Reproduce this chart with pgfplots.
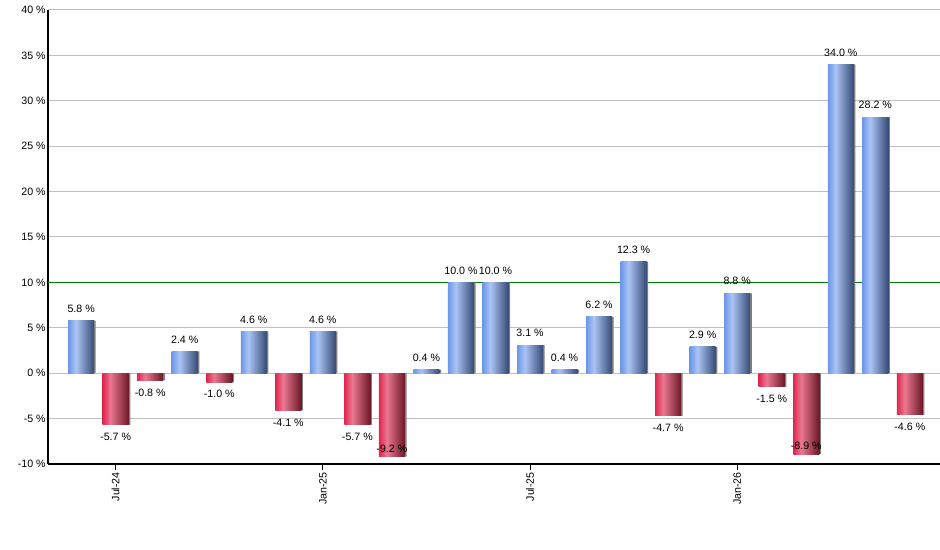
\documentclass[border=0pt]{standalone}
\usepackage{fontspec}
\setmainfont{Liberation Sans}
\usepackage{pgfplots}
\pgfplotsset{compat=1.18}

% horizontal bar gradients (the bar spans 25bp..75bp of the shading):
% bright left edge, light highlight, dark right edge
\pgfdeclarehorizontalshading{barblue}{100bp}{%
  rgb(0bp)=(0.43,0.59,0.91); rgb(25bp)=(0.43,0.59,0.91);
  rgb(40bp)=(0.67,0.77,0.96); rgb(75bp)=(0.21,0.29,0.46); rgb(100bp)=(0.21,0.29,0.46)}
\pgfdeclarehorizontalshading{barred}{100bp}{%
  rgb(0bp)=(0.88,0.15,0.31); rgb(25bp)=(0.88,0.15,0.31);
  rgb(40bp)=(0.92,0.47,0.57); rgb(75bp)=(0.42,0.09,0.15); rgb(100bp)=(0.42,0.09,0.15)}

\pgfplotstableread{
x y
0 5.8
3 2.4
5 4.6
7 4.6
10 0.4
11 10.0
12 10.0
13 3.1
14 0.4
15 6.2
16 12.3
18 2.9
19 8.8
22 34.0
23 28.2
}\posdata

\pgfplotstableread{
x y
1 -5.7
2 -0.8
4 -1.0
6 -4.1
8 -5.7
9 -9.2
17 -4.7
20 -1.5
21 -8.9
24 -4.6
}\negdata

\begin{document}
\begin{tikzpicture}[font=\fontsize{8}{10}\selectfont]
\path[use as bounding box] (0,0) rectangle (705pt,412.5pt);
\begin{axis}[
  at={(36pt,64.5pt)}, anchor=south west,
  scale only axis, width=671.25pt, height=340.5pt,
  xmin=-0.96, xmax=24.96, ymin=-10, ymax=40,
  axis x line*=bottom, axis y line*=left,
  axis line style={-,black,line width=0.9pt},
  xtick={1,7,13,19},
  xticklabels={Jul-24,Jan-25,Jul-25,Jan-26},
  xticklabel style={rotate=90, anchor=east, inner sep=1.5pt},
  xtick align=outside, major tick length=4.5pt,
  xtick style={black, line width=0.75pt},
  ytick={-10,-5,...,40},
  ytick style={draw=none},
  yticklabel={\pgfmathprintnumber{\tick} \%},
  yticklabel style={inner sep=1.5pt},
  /pgf/number format/assume math mode=true,
  ymajorgrids, grid style={gray!50, line width=0.75pt},
  ybar, bar width=19.5pt, bar shift=0pt,
  visualization depends on={rawy \as \rawy},
  valuelabel/.style={
    nodes near coords={\pgfmathprintnumber[fixed,fixed zerofill,precision=1]{\pgfplotspointmeta} \%}},
]
% reference level drawn first so the bars cover it
\addplot[sharp plot, green!50!black, line width=0.75pt, forget plot]
  coordinates {(-0.96,10) (24.96,10)};

% thin grey shadow on the right edge of every bar
\addplot[fill=black!50, draw=none, bar shift=1.2pt, forget plot]
  table[x=x,y=y] {\posdata};
\addplot[fill=black!50, draw=none, bar shift=1.2pt, forget plot]
  table[x=x,y=y] {\negdata};

% one plot per bar so each bar gets its own gradient
\pgfplotsinvokeforeach{0,...,14}{
  \addplot[draw=none, shading=barblue, forget plot, valuelabel,
    x filter/.expression={\coordindex==#1 ? x : nan},
    every node near coord/.append style={anchor=center, yshift=9pt}]
    table[x=x,y=y] {\posdata};
}
\pgfplotsinvokeforeach{0,...,9}{
  \addplot[draw=none, shading=barred, forget plot, valuelabel,
    x filter/.expression={\coordindex==#1 ? x : nan},
    every node near coord/.append style={anchor=center,
      yshift={-9+15*(\rawy<-8)}}]
    table[x=x,y=y] {\negdata};
}
\end{axis}
\end{tikzpicture}
\end{document}
